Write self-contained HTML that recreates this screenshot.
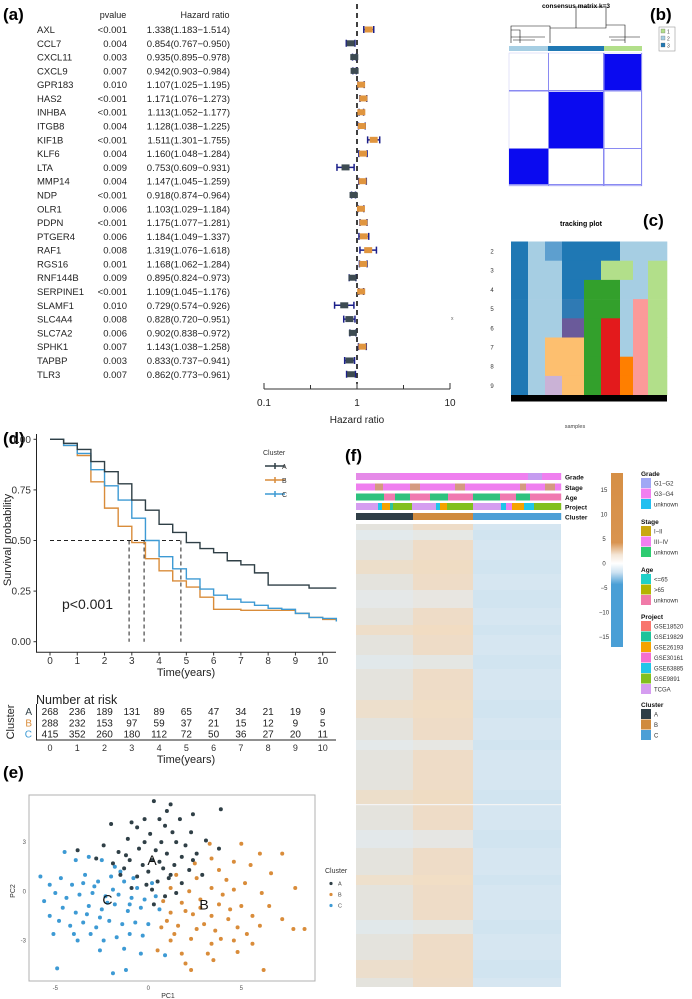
<!DOCTYPE html>
<html><head><meta charset="utf-8">
<style>
html,body{margin:0;padding:0;background:#fff;}
svg{display:block;font-family:"Liberation Sans",Arial,sans-serif;}
</style></head>
<body>
<svg id="fig" width="692" height="999" viewBox="0 0 692 999" xmlns="http://www.w3.org/2000/svg">
<g font-weight="bold" font-size="17" fill="#000">
<text x="3" y="20">(a)</text>
<text x="650" y="20">(b)</text>
<text x="643" y="226">(c)</text>
<text x="3" y="444">(d)</text>
<text x="345" y="461">(f)</text>
<text x="3" y="778">(e)</text>
</g>
<g id="forest"></g>
<g id="cons"></g>
<g id="track"></g>
<g id="km"></g>
<g id="pca"></g>
<g id="heat"></g>
</svg>
<script>
const NS="http://www.w3.org/2000/svg";
function mk(parent,tag,attrs,text){const e=document.createElementNS(NS,tag);for(const k in attrs)e.setAttribute(k,attrs[k]);if(text!==undefined)e.textContent=text;parent.appendChild(e);return e;}

// ===== Forest plot data =====
const genes=["AXL","CCL7","CXCL11","CXCL9","GPR183","HAS2","INHBA","ITGB8","KIF1B","KLF6","LTA","MMP14","NDP","OLR1","PDPN","PTGER4","RAF1","RGS16","RNF144B","SERPINE1","SLAMF1","SLC4A4","SLC7A2","SPHK1","TAPBP","TLR3"];
const pvals=["<0.001","0.004","0.003","0.007","0.010","<0.001","<0.001","0.004","<0.001","0.004","0.009","0.004","<0.001","0.006","<0.001","0.006","0.008","0.001","0.009","<0.001","0.010","0.008","0.006","0.007","0.003","0.007"];
const hr=[1.338,0.854,0.935,0.942,1.107,1.171,1.113,1.128,1.511,1.160,0.753,1.147,0.918,1.103,1.175,1.184,1.319,1.168,0.895,1.109,0.729,0.828,0.902,1.143,0.833,0.862];
const hrLo=[1.183,0.767,0.895,0.903,1.025,1.076,1.052,1.038,1.301,1.048,0.609,1.045,0.874,1.029,1.077,1.049,1.076,1.062,0.824,1.045,0.574,0.720,0.838,1.038,0.737,0.773];
const hrHi=[1.514,0.950,0.978,0.984,1.195,1.273,1.177,1.225,1.755,1.284,0.931,1.259,0.964,1.184,1.281,1.337,1.618,1.284,0.973,1.176,0.926,0.951,0.972,1.258,0.941,0.961];
const hrTicks=[0.1,1,10];
(function(){
  const g=document.getElementById('forest');
  const fx=v=>357+93*Math.log10(v), fy=i=>29.5+i*13.79;
  let t=mk(g,'text',{x:113,y:18,'font-size':9,'text-anchor':'middle',fill:'#222'},'pvalue');
  
  t=mk(g,'text',{x:205,y:18,'font-size':9,'text-anchor':'middle',fill:'#222'},'Hazard ratio');
  
  const ref=mk(g,'line',{x1:fx(1),y1:4,x2:fx(1),y2:384,stroke:'#111','stroke-width':1.6,'stroke-dasharray':'5,4'});
  
  genes.forEach((gn,i)=>{
    const y=fy(i);
    let a=mk(g,'text',{x:37,y:y+3.5,'font-size':9.5,fill:'#222'},gn);
    
    a=mk(g,'text',{x:127,y:y+3.5,'font-size':9.5,'text-anchor':'end',fill:'#222'},pvals[i]);
    
    a=mk(g,'text',{x:230,y:y+3.5,'font-size':9.5,'text-anchor':'end',fill:'#222'},hr[i].toFixed(3)+'('+hrLo[i].toFixed(3)+'\u2212'+hrHi[i].toFixed(3)+')');
    
    const x1=fx(hrLo[i]),x2=fx(hrHi[i]);
    const eb=mk(g,'path',{d:`M${x1},${y}H${x2}M${x1},${y-3.5}V${y+3.5}M${x2},${y-3.5}V${y+3.5}`,stroke:'#1b1f8a','stroke-width':1.5,fill:'none'});
    
    const b=mk(g,'rect',{x:fx(hr[i])-4,y:y-3,width:8,height:6,fill:hr[i]>1?'#e0953f':'#3d4b52'});
    
  });
  const ax=mk(g,'path',{d:`M${fx(0.1)},389H${fx(10)}M${fx(0.1)},383V389M${fx(0.3162)},385V389M${fx(1)},383V389M${fx(3.162)},385V389M${fx(10)},383V389`,stroke:'#333','stroke-width':1,fill:'none'});
  
  hrTicks.forEach(v=>{const tt=mk(g,'text',{x:fx(v),y:406,'font-size':10,'text-anchor':'middle',fill:'#222'},String(v));
    });
  t=mk(g,'text',{x:357,y:423,'font-size':10,'text-anchor':'middle',fill:'#222'},'Hazard ratio');
  
})();

// ===== Consensus matrix =====
const consGroups=[[509,548,'#a6cee3'],[548,604,'#1f78b4'],[604,642,'#b2df8a']];
(function(){
  const g=document.getElementById('cons');
  let t=mk(g,'text',{x:576,y:8,'font-size':6.5,'font-weight':'bold','text-anchor':'middle'},'consensus matrix k=3');
  
  const d=mk(g,'path',{d:'M511,43V26H550V43M550,26V28H576V7H606V28H560M606,28V25H625V43M511,37H545M513,40H535M609,37H640M611,40H625M511,30H520V43',stroke:'#111','stroke-width':0.6,fill:'none'});
  
  consGroups.forEach(c=>{const r=mk(g,'rect',{x:c[0],y:46,width:c[1]-c[0],height:5,fill:c[2]});
    });
  let r=mk(g,'rect',{x:509,y:53,width:133,height:133,fill:'#fff',stroke:'#c8c8f4','stroke-width':0.5});
  
  [[604,54,38,36],[548,92,56,56],[509,149,39,36]].forEach(b=>{const q=mk(g,'rect',{x:b[0],y:b[1],width:b[2],height:b[3],fill:'#0a0af0'});
    });
  [[509,90,133,1.5],[509,148,133,1],[509,184,133,1.5],[548,53,1,133],[603,53,1.5,133],[641,53,1,133]].forEach(b=>{
    const q=mk(g,'rect',{x:b[0],y:b[1],width:b[2],height:b[3],fill:'#8a8af2'});
    });
  r=mk(g,'rect',{x:659,y:27,width:16,height:24,fill:'#fff',stroke:'#999','stroke-width':0.6});
  
  consGroups.slice().reverse().forEach((c,i)=>{
    const q=mk(g,'rect',{x:661,y:29+i*7,width:4,height:4,fill:[ '#b2df8a','#a6cee3','#1f78b4'][i],stroke:'#666','stroke-width':0.3});
    
    const tt=mk(g,'text',{x:667,y:33.5+i*7,'font-size':5,fill:'#444'},String(i+1));
    
  });
})();

// ===== Tracking plot =====
const trackCols=[[511,528],[528,545],[545,562],[562,584],[584,601],[601,620],[620,633],[633,648],[648,667]];
const trackColors=[
 ['#1f78b4','#1f78b4','#1f78b4','#1f78b4','#1f78b4','#1f78b4','#1f78b4','#1f78b4'],
 ['#a6cee3','#a6cee3','#a6cee3','#a6cee3','#a6cee3','#a6cee3','#a6cee3','#a6cee3'],
 ['#5d9fcf','#a6cee3','#a6cee3','#a6cee3','#a6cee3','#fdbf6f','#fdbf6f','#cab2d6'],
 ['#1f78b4','#1f78b4','#1f78b4','#2f7ab4','#6a5a9a','#fdbf6f','#fdbf6f','#fdbf6f'],
 ['#1f78b4','#1f78b4','#33a02c','#33a02c','#33a02c','#33a02c','#33a02c','#33a02c'],
 ['#1f78b4','#b2df8a','#33a02c','#33a02c','#e31a1c','#e31a1c','#e31a1c','#e31a1c'],
 ['#a6cee3','#b2df8a','#a6cee3','#a6cee3','#a6cee3','#a6cee3','#ff7f00','#ff7f00'],
 ['#a6cee3','#a6cee3','#a6cee3','#fb9a99','#fb9a99','#fb9a99','#fb9a99','#fb9a99'],
 ['#a6cee3','#b2df8a','#b2df8a','#b2df8a','#b2df8a','#b2df8a','#b2df8a','#b2df8a']];
const trackRows=["2","3","4","5","6","7","8","9"];
(function(){
  const g=document.getElementById('track');
  let t=mk(g,'text',{x:581,y:226,'font-size':7,'font-weight':'bold','text-anchor':'middle'},'tracking plot');
  
  const y0=241.5,rh=19.2;
  trackCols.forEach((c,ci)=>{trackColors[ci].forEach((col,ri)=>{
    const r=mk(g,'rect',{x:c[0],y:y0+ri*rh,width:c[1]-c[0]+0.3,height:rh+0.3,fill:col});
    });});
  const bk=mk(g,'rect',{x:511,y:395,width:156,height:6.5,fill:'#000'});
  
  trackRows.forEach((k,i)=>{const tt=mk(g,'text',{x:492,y:y0+i*rh+12,'font-size':6,'text-anchor':'middle',fill:'#333'},k);
    });
  t=mk(g,'text',{x:575,y:428,'font-size':5.5,'text-anchor':'middle',fill:'#444'},'samples');
  
  t=mk(g,'text',{x:451,y:320,'font-size':5,fill:'#666'},'x');
  
})();

// ===== KM plot =====
const kmTimes=[0,0.5,1,1.5,2,2.5,3,3.5,4,4.5,5,5.5,6,6.5,7,7.5,8,8.5,9,9.5,10,10.5];
const kmA=[1,0.98,0.95,0.89,0.84,0.78,0.70,0.65,0.58,0.54,0.49,0.46,0.44,0.40,0.38,0.34,0.28,0.28,0.28,0.265,0.265,0.265];
const kmB=[1,0.97,0.92,0.79,0.66,0.57,0.49,0.41,0.35,0.30,0.27,0.22,0.16,0.16,0.155,0.155,0.155,0.155,0.14,0.12,0.11,0.10];
const kmC=[1,0.97,0.93,0.85,0.77,0.70,0.61,0.50,0.42,0.36,0.31,0.26,0.23,0.21,0.195,0.18,0.165,0.16,0.14,0.12,0.115,0.10];
const medians=[2.9,3.45,4.8];
const riskA=[268,236,189,131,89,65,47,34,21,19,9];
const riskB=[288,232,153,97,59,37,21,15,12,9,5];
const riskC=[415,352,260,180,112,72,50,36,27,20,11];
const survTicks=[0,0.25,0.5,0.75,1];
(function(){
  const g=document.getElementById('km');
  const X=t=>50+t*27.27, Y=p=>641.7-p*202.4;
  const ax=mk(g,'path',{d:`M36.5,434V652.3H336`,stroke:'#222','stroke-width':1,fill:'none'});
  
  survTicks.forEach(v=>{const tt=mk(g,'text',{x:31,y:Y(v)+3.5,'font-size':10,'text-anchor':'end',fill:'#333'},v.toFixed(2));
    
    const l=mk(g,'line',{x1:33.5,x2:36.5,y1:Y(v),y2:Y(v),stroke:'#333'});});
  for(let t=0;t<=10;t++){const tt=mk(g,'text',{x:X(t),y:664,'font-size':10,'text-anchor':'middle',fill:'#333'},String(t));
    
    const l=mk(g,'line',{x1:X(t),x2:X(t),y1:652.3,y2:655.5,stroke:'#333'});}
  let t=mk(g,'text',{x:186,y:676,'font-size':11,'text-anchor':'middle',fill:'#222'},'Time(years)');
  
  t=mk(g,'text',{x:0,y:0,'font-size':11,'text-anchor':'middle',fill:'#222',transform:'translate(11,540) rotate(-90)'},'Survival probability');
  
  const dash=mk(g,'path',{d:`M${X(0)},${Y(0.5)}H${X(medians[2])}`+medians.map(m=>`M${X(m)},${Y(0.5)}V${Y(0)}`).join(''),stroke:'#222','stroke-width':1,'stroke-dasharray':'4,3',fill:'none'});
  
  [[kmB,'#d98c3a','curve-b'],[kmC,'#3d9ad4','curve-c'],[kmA,'#2f3f46','curve-a']].forEach(s=>{
    let d=`M${X(kmTimes[0])},${Y(s[0][0])}`;
    for(let i=1;i<kmTimes.length;i++){d+=`H${X(kmTimes[i])}V${Y(s[0][i])}`;}
    const p=mk(g,'path',{d:d,stroke:s[1],'stroke-width':1.4,fill:'none'});
    
  });
  t=mk(g,'text',{x:62,y:609,'font-size':14,fill:'#222'},'p<0.001');
  
  t=mk(g,'text',{x:263,y:455,'font-size':7,fill:'#333'},'Cluster');
  
  [['A','#2f3f46'],['B','#d98c3a'],['C','#3d9ad4']].forEach((e,i)=>{const y=466+i*14;
    const l=mk(g,'path',{d:`M265,${y}H285M275,${y-3}V${y+3}`,stroke:e[1],'stroke-width':1.5});
    const tt=mk(g,'text',{x:282,y:y+3,'font-size':7,fill:'#333'},e[0]);});
  t=mk(g,'text',{x:36,y:704,'font-size':12.5,fill:'#222'},'Number at risk');
  
  [[riskA,'A','#2f3f46'],[riskB,'B','#d98c3a'],[riskC,'C','#3d9ad4']].forEach((r,ri)=>{const y=715+ri*11.3;
    const lab=mk(g,'text',{x:32,y:y,'font-size':10,'text-anchor':'end',fill:r[2]},r[1]);
    r[0].forEach((v,i)=>{const tt=mk(g,'text',{x:X(i),y:y,'font-size':10,'text-anchor':'middle',fill:'#222'},String(v));
      });});
  const rax=mk(g,'path',{d:`M36.5,704V740H336`,stroke:'#222','stroke-width':1,fill:'none'});
  
  for(let i=0;i<=10;i++){const tt=mk(g,'text',{x:X(i),y:751,'font-size':9,'text-anchor':'middle',fill:'#333'},String(i));
    }
  t=mk(g,'text',{x:186,y:763,'font-size':11,'text-anchor':'middle',fill:'#222'},'Time(years)');
  
  t=mk(g,'text',{x:0,y:0,'font-size':11,'text-anchor':'middle',fill:'#222',transform:'translate(14,722) rotate(-90)'},'Cluster');
  
})();

// ===== PCA =====
const ptsA=[[0.3,5.5],[1.2,5.3],[3.9,5.0],[2.4,4.7],[-2,4.1],[-0.9,4.2],[-0.2,4.4],[0.9,4.0],[1.7,4.4],[2.3,3.6],[3.1,3.1],[-1.1,3.2],[0.1,3.5],[0.7,3.0],[1.5,3.0],[2.0,2.8],[-2.4,2.8],[-1.6,2.4],[-0.5,2.6],[0.4,2.5],[1.0,2.3],[1.8,2.1],[2.6,2.3],[3.8,2.6],[-3.8,2.5],[-2.8,2.0],[-1.9,1.7],[-1.0,1.9],[-0.3,1.6],[0.2,1.9],[0.8,1.4],[1.4,1.6],[2.2,1.3],[-1.5,1.0],[-0.6,0.9],[0.0,1.2],[0.5,0.6],[1.1,0.8],[1.8,0.5],[-0.9,0.2],[0.2,0.1],[0.9,-0.3],[1.5,-0.1],[2.4,1.9],[-0.2,3.0],[0.6,4.4],[1.3,3.6],[-1.3,1.4],[2.9,1.0],[0.3,-0.8],[-0.6,3.9],[1.0,4.9],[-1.2,2.2],[0.6,1.8],[1.2,1.0],[-0.1,0.4]];
const ptsB=[[3.3,2.9],[5.0,2.9],[7.2,2.3],[6.0,2.3],[3.4,2.0],[4.6,1.8],[2.5,1.7],[3.8,1.3],[5.5,1.6],[6.6,1.1],[1.5,1.0],[2.6,0.8],[4.2,0.7],[5.2,0.5],[1.2,0.2],[2.2,0.0],[3.4,0.2],[4.6,0.1],[6.1,-0.1],[7.9,0.2],[0.8,-0.6],[1.8,-0.7],[2.8,-0.5],[3.8,-0.8],[5.0,-0.9],[6.5,-0.9],[1.2,-1.3],[2.4,-1.4],[3.4,-1.5],[4.3,-1.7],[5.6,-1.5],[7.2,-1.7],[0.7,-2.2],[1.6,-2.1],[2.6,-2.3],[3.6,-2.4],[4.8,-2.2],[6.0,-2.1],[7.8,-2.3],[8.4,-2.3],[1.2,-3.0],[2.3,-2.9],[3.4,-3.2],[4.6,-3.0],[5.6,-3.2],[0.5,-3.6],[1.8,-3.8],[3.2,-3.8],[4.8,-3.7],[2.0,-4.4],[3.5,-4.2],[2.3,-4.8],[6.2,-4.8],[2.8,-1.0],[4.0,-0.2],[1.0,-1.8],[3.0,-2.0],[4.4,-1.1],[2.0,-1.2],[5.3,-2.6],[1.4,-2.6],[3.9,-2.9]];
const ptsC=[[-5.8,0.9],[-4.5,2.4],[-3.9,1.9],[-3.2,2.1],[-2.5,1.9],[-1.8,1.5],[-5.3,0.4],[-4.7,0.8],[-4.1,0.4],[-3.4,1.0],[-2.7,0.6],[-2.0,0.9],[-1.3,0.6],[-0.6,0.2],[-5.6,-0.6],[-5.0,-0.1],[-4.4,-0.4],[-3.7,-0.2],[-3.0,-0.1],[-2.3,-0.3],[-1.6,-0.2],[-0.9,-0.4],[-0.2,-0.5],[0.4,-0.3],[-5.3,-1.5],[-4.6,-1.0],[-3.9,-1.3],[-3.2,-0.9],[-2.5,-1.1],[-1.8,-0.8],[-1.1,-1.2],[-0.4,-1.0],[0.6,-1.1],[-5.1,-2.6],[-4.2,-2.1],[-3.5,-1.9],[-2.8,-2.2],[-2.1,-1.8],[-1.4,-2.0],[-0.7,-1.9],[0.0,-2.0],[-3.8,-3.0],[-3.1,-2.6],[-2.4,-3.0],[-1.7,-2.8],[-1.0,-2.6],[-0.3,-2.7],[-2.6,-3.6],[-1.3,-3.5],[-0.4,-3.8],[0.9,-3.9],[-4.9,-4.7],[-1.9,-5.0],[-1.2,-4.8],[-2.9,0.3],[-1.5,1.2],[0.2,0.5],[-4.0,-2.6],[-2.2,-0.7],[-0.8,0.8],[-3.5,0.5],[-2.6,-1.6],[-1.9,0.1],[-4.8,-1.8],[-1.0,-0.8],[-3.3,-1.4]];
const pcTicks=[-5,0,5];
const pc2Ticks=[-3,0,3];
(function(){
  const g=document.getElementById('pca');
  const X=v=>148.3+v*18.6, Y=v=>891.3-v*16.4;
  const f=mk(g,'rect',{x:29,y:795,width:286,height:186,fill:'#fff',stroke:'#b0b0b0','stroke-width':1});
  
  [[ptsB,'#d98c3a','point-b'],[ptsC,'#3d9ad4','point-c'],[ptsA,'#2f3f46','point-a']].forEach(s=>{
    s[0].forEach(p=>{const c=mk(g,'circle',{cx:X(p[0]),cy:Y(p[1]),r:2,fill:s[1]});
      });});
  [['A',0.2,1.6],['C',-2.2,-0.8],['B',3.0,-1.1]].forEach(l=>{const t=mk(g,'text',{x:X(l[1]),y:Y(l[2]),'font-size':14,'text-anchor':'middle',fill:'#111'},l[0]);
    });
  pcTicks.forEach(v=>{const t=mk(g,'text',{x:X(v),y:990,'font-size':6,'text-anchor':'middle',fill:'#555'},String(v));
    });
  pc2Ticks.forEach(v=>{const t=mk(g,'text',{x:26,y:Y(v)+2,'font-size':6,'text-anchor':'end',fill:'#555'},String(v));
    });
  let t=mk(g,'text',{x:168,y:998,'font-size':7,'text-anchor':'middle',fill:'#333'},'PC1');
  
  t=mk(g,'text',{x:0,y:0,'font-size':7,'text-anchor':'middle',fill:'#333',transform:'translate(15,891) rotate(-90)'},'PC2');
  
  t=mk(g,'text',{x:325,y:873,'font-size':7,fill:'#333'},'Cluster');
  
  [['A','#2f3f46'],['B','#d98c3a'],['C','#3d9ad4']].forEach((e,i)=>{const y=883.5+i*11;
    const c=mk(g,'circle',{cx:331,cy:y,r:1.6,fill:e[1]});
    const tt=mk(g,'text',{x:338,y:y+2,'font-size':5.5,fill:'#444'},e[0]);});
})();

// ===== Heatmap =====
const annNames=["Grade","Stage","Age","Project","Cluster"];
const annSegs=[
 [[356,400,'#e58ae8'],[400,460,'#ef7fef'],[460,528,'#ef7fef'],[528,542,'#c59cf0'],[542,561,'#ef7fef']],
 [[356,375,'#ef7fef'],[375,383,'#d49a80'],[383,410,'#ef7fef'],[410,420,'#d49a80'],[420,455,'#ef7fef'],[455,465,'#d49a80'],[465,520,'#ef7fef'],[520,526,'#d49a80'],[526,545,'#ef7fef'],[545,555,'#d49a80'],[555,561,'#ef7fef']],
 [[356,384,'#2ec27e'],[384,395,'#f07ab0'],[395,410,'#2ec27e'],[410,430,'#f07ab0'],[430,448,'#2ec27e'],[448,473,'#f07ab0'],[473,500,'#2ec27e'],[500,516,'#f07ab0'],[516,530,'#2ec27e'],[530,561,'#f07ab0']],
 [[356,378,'#d59df0'],[378,382,'#21c5e8'],[382,390,'#f5a300'],[390,393,'#2ec2a0'],[393,412,'#82c01e'],[412,436,'#d59df0'],[436,440,'#21c5e8'],[440,447,'#f5a300'],[447,453,'#82c01e'],[453,473,'#82c01e'],[473,501,'#d59df0'],[501,506,'#21c5e8'],[506,512,'#ef7fef'],[512,524,'#f5a300'],[524,534,'#21c5e8'],[534,561,'#82c01e']],
 [[356,413,'#2f3e46'],[413,473,'#d08b3e'],[473,561,'#4d9fd6']]];
const heatBlocks=[[356,413,'#e4e3dd'],[413,473,'#eedcc7'],[473,561,'#d6e6f1']];
const heatStripes=[[530,'#e3ecf2'],[560,'#f0dcc2'],[590,'#e6eaec'],[625,'#f2dcc0'],[655,'#dfe9f0'],[700,'#f1ddc5'],[740,'#e4ebef'],[790,'#f0dbc2'],[830,'#e2eaf0'],[875,'#f2dec4'],[920,'#e0e9ef'],[960,'#efdcc5']];
const scaleTicks=[15,10,5,0,-5,-10,-15];
(function(){
  const g=document.getElementById('heat');
  const rowY=[473,483.5,493.5,503,513];
  annSegs.forEach((row,ri)=>{row.forEach(s=>{const r=mk(g,'rect',{x:s[0],y:rowY[ri],width:s[1]-s[0]+0.2,height:7,fill:s[2]});
    });
    const t=mk(g,'text',{x:565,y:rowY[ri]+6.5,'font-size':6.5,'font-weight':'bold',fill:'#111'},annNames[ri]);
    });
  heatBlocks.forEach(b=>{const r=mk(g,'rect',{x:b[0],y:524,width:b[1]-b[0],height:463,fill:b[2]});
    });
  heatStripes.forEach((s,i)=>{heatBlocks.forEach((b,bi)=>{
    const col= bi==2 ? '#cfe2ef' : s[1];
    const r=mk(g,'rect',{x:b[0],y:s[0],width:b[1]-b[0],height:10+(i%3)*4,fill:col,opacity:0.7});
    });});
  const wl=mk(g,'rect',{x:356,y:804,width:205,height:1.2,fill:'#f4f4f4'});
  
  const defs=mk(g,'defs',{});
  const lg=mk(defs,'linearGradient',{id:'cs',x1:0,y1:0,x2:0,y2:1});
  [[0,'#d68f45'],[0.4,'#d99450'],[0.47,'#f4e6d6'],[0.52,'#ffffff'],[0.57,'#cfe3f2'],[0.64,'#4a9fd6'],[1,'#4a9fd6']].forEach(s=>mk(lg,'stop',{offset:s[0],'stop-color':s[1]}));
  const cb=mk(g,'rect',{x:611,y:473,width:12,height:174,fill:'url(#cs)'});
  
  scaleTicks.forEach((v,i)=>{const t=mk(g,'text',{x:604,y:492+i*24.5,'font-size':6,'text-anchor':'middle',fill:'#333'},v<0?'\u2212'+(-v):String(v));
    });
  const legend=[
   ['Grade',476,[['G1\u2212G2','#a0a8f5'],['G3\u2212G4','#f27ff0'],['unknown','#21bff0']]],
   ['Stage',524,[['I\u2212II','#c8a810'],['III\u2212IV','#f27ff0'],['unknown','#2ecc71']]],
   ['Age',572,[['<=65','#20d0c8'],['>65','#b4b400'],['unknown','#f07aa8']]],
   ['Project',619,[['GSE18520','#f8766d'],['GSE19829','#1fc39a'],['GSE26193','#f5a300'],['GSE30161','#f46fcf'],['GSE63885','#21c5e8'],['GSE9891','#82c01e'],['TCGA','#d59df0']]],
   ['Cluster',707,[['A','#2f3e46'],['B','#d08b3e'],['C','#4d9fd6']]]];
  legend.forEach(L=>{const t=mk(g,'text',{x:641,y:L[1],'font-size':6.5,'font-weight':'bold',fill:'#111'},L[0]);
    
    L[2].forEach((e,i)=>{const y=L[1]+2+i*10.5;
      const r=mk(g,'rect',{x:641,y:y,width:10,height:10,fill:e[1]});
      const tt=mk(g,'text',{x:654,y:y+7.5,'font-size':6,fill:'#333'},e[0]);});});
})();
</script>
</body></html>
